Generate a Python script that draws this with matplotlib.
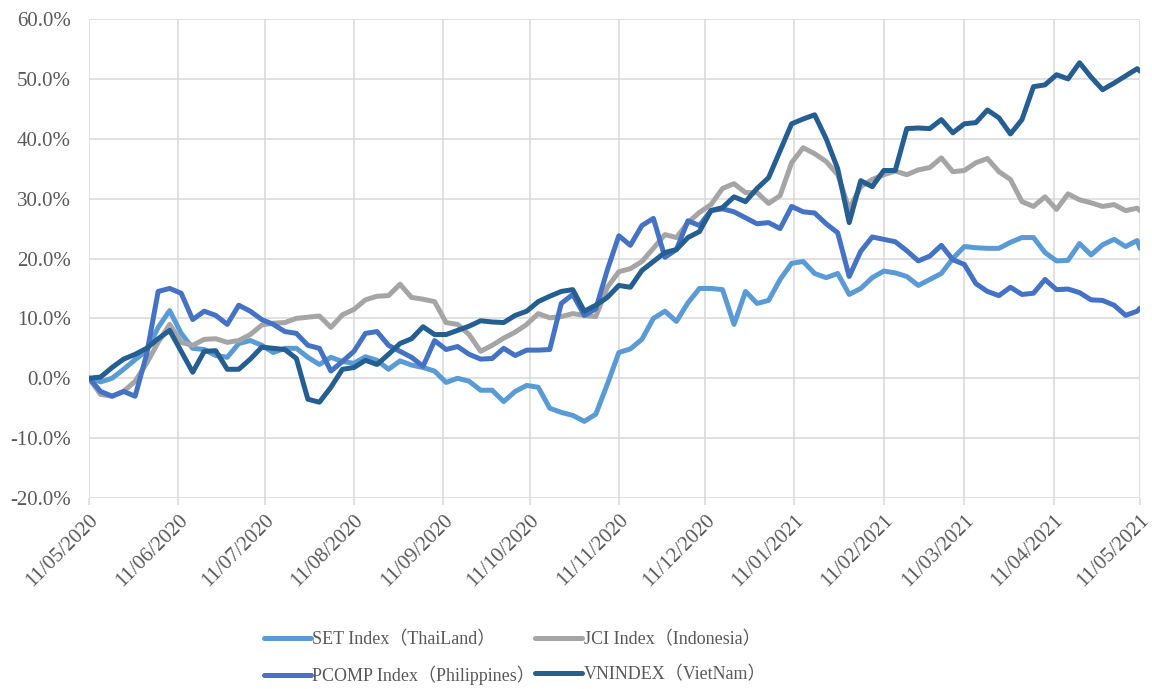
import matplotlib
matplotlib.use("Agg")
import matplotlib.pyplot as plt
import matplotlib.dates as mdates
from matplotlib.ticker import FuncFormatter, MultipleLocator
import pandas as pd

# sample dates: every 4 days from 11/05/2020, plus the last day
dates = list(pd.date_range("2020-05-11", periods=92, freq="4D")) + [pd.Timestamp("2021-05-11")]

set_vals = [
    0, -0.6, 0.0, 1.5, 3.1, 4.6, 8.5, 11.3, 7.5, 5.0,
    4.8, 3.8, 3.5, 5.8, 6.3, 5.5, 4.3, 5.0, 5.0, 3.5,
    2.3, 3.5, 2.8, 2.5, 3.6, 3.0, 1.5, 2.9, 2.2, 1.8,
    1.2, -0.7, 0.0, -0.5, -2.0, -2.0, -3.9, -2.2, -1.2, -1.5,
    -5.0, -5.7, -6.2, -7.2, -6.0, -1.0, 4.3, 4.9, 6.5, 10.0,
    11.2, 9.5, 12.6, 15.0, 15.0, 14.8, 9.0, 14.5, 12.5, 13.0,
    16.5, 19.2, 19.5, 17.5, 16.8, 17.5, 14.0, 15.0, 16.8, 17.9,
    17.6, 17.0, 15.5, 16.5, 17.5, 20.0, 22.0, 21.8, 21.7, 21.7,
    22.7, 23.5, 23.5, 21.0, 19.6, 19.7, 22.5, 20.6, 22.3, 23.2,
    22.0, 23.0, 21.7,
]
jci_vals = [
    0, -2.7, -3.0, -2.2, -0.5, 2.5, 6.0, 9.0, 6.0, 5.5,
    6.5, 6.6, 6.0, 6.3, 7.3, 8.9, 9.2, 9.3, 10.0, 10.2,
    10.4, 8.5, 10.6, 11.5, 13.1, 13.7, 13.8, 15.7, 13.5, 13.2,
    12.8, 9.3, 9.0, 7.3, 4.5, 5.5, 6.7, 7.7, 9.0, 10.8,
    10.1, 10.3, 10.8, 10.5, 10.3, 15.2, 17.8, 18.3, 19.5, 21.7,
    24.0, 23.5, 26.0, 27.7, 29.0, 31.7, 32.5, 31.0, 31.0, 29.2,
    30.5, 36.0, 38.5, 37.5, 36.2, 34.0, 28.3, 32.0, 33.2, 34.0,
    34.6, 34.0, 34.8, 35.2, 36.8, 34.5, 34.7, 36.0, 36.7, 34.5,
    33.2, 29.5, 28.7, 30.3, 28.2, 30.8, 29.8, 29.3, 28.7, 29.0,
    28.0, 28.4, 28.0,
]
pcomp_vals = [
    0, -2.2, -3.0, -2.2, -3.0, 4.0, 14.5, 15.0, 14.2, 9.8,
    11.2, 10.5, 9.0, 12.2, 11.2, 9.8, 9.0, 7.8, 7.5, 5.5,
    5.0, 1.2, 2.8, 4.5, 7.5, 7.8, 5.5, 4.5, 3.5, 2.0,
    6.3, 4.8, 5.3, 4.0, 3.2, 3.3, 5.0, 3.8, 4.7, 4.7,
    4.8, 12.5, 14.0, 10.5, 11.6, 18.1, 23.8, 22.2, 25.5, 26.7,
    20.2, 21.5, 26.3, 25.5, 28.0, 28.3, 27.8, 26.8, 25.8, 26.0,
    25.0, 28.7, 27.8, 27.6, 25.8, 24.3, 17.0, 21.2, 23.6, 23.2,
    22.8, 21.3, 19.6, 20.4, 22.2, 19.8, 19.0, 15.8, 14.5, 13.8,
    15.2, 14.0, 14.2, 16.5, 14.8, 14.9, 14.3, 13.1, 13.0, 12.2,
    10.5, 11.2, 11.7,
]
vn_vals = [
    0, 0.2, 1.8, 3.2, 4.0, 5.0, 6.6, 8.0, 4.5, 1.0,
    4.5, 4.6, 1.5, 1.5, 3.2, 5.2, 5.0, 4.8, 3.3, -3.5,
    -4.0, -1.5, 1.5, 1.8, 3.0, 2.3, 4.0, 5.8, 6.6, 8.6,
    7.3, 7.3, 8.0, 8.7, 9.6, 9.4, 9.3, 10.5, 11.2, 12.8,
    13.7, 14.5, 14.8, 11.2, 12.2, 13.5, 15.5, 15.2, 18.0, 19.5,
    21.0, 21.5, 23.5, 24.5, 28.0, 28.5, 30.3, 29.5, 31.7, 33.5,
    38.0, 42.5, 43.3, 44.0, 40.0, 35.0, 26.0, 33.0, 32.0, 34.7,
    34.7, 41.7, 41.8, 41.7, 43.2, 41.0, 42.5, 42.7, 44.8, 43.5,
    40.8, 43.2, 48.7, 49.0, 50.7, 50.0, 52.7, 50.3, 48.2, 49.3,
    50.5, 51.7, 51.3,
]

labels = ["SET Index\uff08ThaiLand\uff09", "JCI Index\uff08Indonesia\uff09",
          "PCOMP Index\uff08Philippines\uff09", "VNINDEX\uff08VietNam\uff09"]
colors = ["#5B9BD5", "#A5A5A5", "#4472C4", "#255E91"]
series = [set_vals, jci_vals, pcomp_vals, vn_vals]

FONT = ["Liberation Serif", "Noto Sans CJK SC", "DejaVu Sans"]
TXT = "#595959"
GRID = "#D9D9D9"
plt.rcParams["font.family"] = FONT

fig = plt.figure(figsize=(11.52, 6.89), dpi=100)
ax = fig.add_axes([0.0773, 0.2772, 0.9123, 0.6952])

lines = {}
for lab, col, vals in zip(labels, colors, series):
    ln, = ax.plot(dates, vals, color=col, lw=3.6, solid_joinstyle="round",
                  solid_capstyle="round", label=lab)
    lines[lab] = ln

ax.set_xlim(pd.Timestamp("2020-05-11"), pd.Timestamp("2021-05-11"))
ax.set_ylim(-20, 60)
ax.yaxis.set_major_locator(MultipleLocator(10))
ax.yaxis.set_major_formatter(FuncFormatter(lambda v, p: f"{v:.1f}%"))
ax.xaxis.set_major_locator(mdates.MonthLocator(bymonthday=11))
ax.xaxis.set_major_formatter(mdates.DateFormatter("%d/%m/%Y"))

ax.grid(True, color=GRID, lw=1.1)
ax.set_axisbelow(True)
for s in ax.spines.values():
    s.set_visible(False)
ax.tick_params(axis="y", length=0, pad=13, labelsize=15, labelcolor=TXT)
ax.tick_params(axis="x", length=5, color=GRID, width=1.1, pad=4, labelsize=15, labelcolor=TXT)
for t in ax.get_xticklabels():
    t.set_rotation(45)
    t.set_ha("right")
    t.set_va("top")
    t.set_rotation_mode("anchor")

order = [labels[0], labels[2], labels[1], labels[3]]
fig.legend([lines[l] for l in order], order, ncol=2, loc="lower center",
           bbox_to_anchor=(0.447, -0.018), frameon=False, fontsize=13,
           handlelength=2.6, handletextpad=0.1, columnspacing=0.0,
           labelspacing=0.95, labelcolor=TXT)

fig.savefig("out.png", dpi=100)
